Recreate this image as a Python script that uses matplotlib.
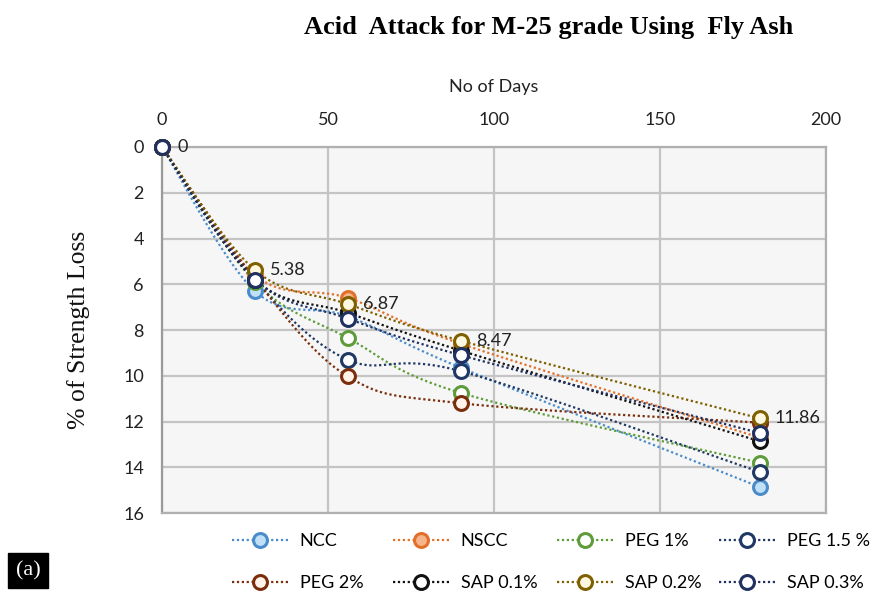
import numpy as np
import matplotlib
matplotlib.use("Agg")
import matplotlib.pyplot as plt
from matplotlib.lines import Line2D

days = [0, 28, 56, 90, 180]
series_names = ["NCC", "NSCC", "PEG 1%", "PEG 1.5 %", "PEG 2%", "SAP 0.1%", "SAP 0.2%", "SAP 0.3%"]
ncc = [0, 6.30, 7.40, 9.65, 14.86]
nscc = [0, 5.60, 6.60, 8.60, 12.70]
peg1 = [0, 5.90, 8.35, 10.75, 13.80]
peg15 = [0, 5.80, 9.30, 9.80, 14.20]
peg2 = [0, 5.75, 10.03, 11.20, 12.05]
sap01 = [0, 5.80, 7.25, 8.90, 12.86]
sap02 = [0, 5.38, 6.87, 8.47, 11.86]
sap03 = [0, 5.80, 7.50, 9.10, 12.50]
values = [ncc, nscc, peg1, peg15, peg2, sap01, sap02, sap03]
line_colors = ["#4a8cc9", "#e2702a", "#5e9c3a", "#1f3864", "#7b2e0c", "#111111", "#7f6000", "#203060"]
face_colors = ["#bfe0f7", "#f6b48a", "#ffffff", "#ffffff", "#fff3ea", "#ffffff", "#fff8e0", "#ffffff"]
label_series = sap02
label_texts = ["0", "5.38", "6.87", "8.47", "11.86"]


def smooth(x, y, n=30):
    x = np.asarray(x, float)
    y = np.asarray(y, float)
    px = np.concatenate([[x[0]], x, [x[-1]]])
    py = np.concatenate([[y[0]], y, [y[-1]]])
    outx, outy = [], []
    t = np.linspace(0, 1, n)
    for i in range(1, len(px) - 2):
        p0 = np.array([px[i - 1], py[i - 1]])
        p1 = np.array([px[i], py[i]])
        p2 = np.array([px[i + 1], py[i + 1]])
        p3 = np.array([px[i + 2], py[i + 2]])
        c1 = p1 + (p2 - p0) / 6.0
        c2 = p2 - (p3 - p1) / 6.0
        b = ((1 - t) ** 3)[:, None] * p1 + (3 * (1 - t) ** 2 * t)[:, None] * c1 \
            + (3 * (1 - t) * t ** 2)[:, None] * c2 + (t ** 3)[:, None] * p2
        outx.extend(b[:, 0])
        outy.extend(b[:, 1])
    return np.array(outx), np.array(outy)


LS = (0, (1, 1.2))
MS = 10

fig = plt.figure(figsize=(8.77, 5.92), dpi=100)
ax = fig.add_axes([0.1847, 0.1334, 0.9418 - 0.1847, 0.7517 - 0.1334])
ax.set_facecolor("#f6f6f6")

for name, vals, lc, fc in zip(series_names, values, line_colors, face_colors):
    sx, sy = smooth(days, vals)
    ax.plot(sx, sy, linestyle=LS, color=lc, linewidth=1.6, zorder=3)
    ax.plot(days, vals, linestyle="none", marker="o", markersize=MS, clip_on=False,
            markerfacecolor=fc, markeredgecolor=lc, markeredgewidth=2.2, zorder=4)

for d, v, t in zip(days, label_series, label_texts):
    ax.annotate(t, (d, v), xytext=(11, 0), textcoords="offset points",
                ha="left", va="center", fontsize=13, family="Lato", color="#222222", zorder=5)

ax.set_xlim(0, 200)
ax.set_ylim(16, 0)
ax.set_xticks([0, 50, 100, 150, 200])
ax.set_yticks(range(0, 17, 2))
ax.xaxis.tick_top()
ax.xaxis.set_label_position("top")
ax.tick_params(axis="both", length=0, labelsize=13, colors="#222222")
ax.tick_params(axis="x", pad=14)
ax.tick_params(axis="y", pad=13)
for lab in ax.get_xticklabels() + ax.get_yticklabels():
    lab.set_family("Lato")
ax.grid(True, color="#c4c4c4", linewidth=1.6)
ax.set_axisbelow(True)
for s in ax.spines.values():
    s.set_color("#b0b0b0")
    s.set_linewidth(1.6)
ax.spines["left"].set_color("#9a9a9a")

ax.set_xlabel("No of Days", family="Lato", fontsize=13, color="#222222", labelpad=14)
ax.set_ylabel("% of Strength Loss", family="Liberation Serif", fontsize=18.5, color="#111111", labelpad=24)

fig.text(0.625, 0.953, "Acid  Attack for M-25 grade Using  Fly Ash", ha="center", va="center",
         family="Liberation Serif", fontweight="bold", fontsize=19)

handles = [Line2D([0], [0], linestyle=LS, color=lc, linewidth=1.6, marker="o",
                  markersize=MS, markerfacecolor=fc, markeredgecolor=lc, markeredgewidth=2.2)
           for lc, fc in zip(line_colors, face_colors)]
col_x = [232, 393, 557, 719]
for c in range(4):
    idx = [c, c + 4]
    lg = fig.legend([handles[i] for i in idx], [series_names[i] for i in idx], ncol=1,
                    loc="center left", bbox_to_anchor=(col_x[c] / 877, 1 - 562 / 592),
                    frameon=False, prop={"family": "Lato", "size": 13}, handlelength=3.1,
                    handletextpad=0.65, labelspacing=1.45, borderpad=0, borderaxespad=0)

fig.text(0.032, 0.036, "(a)", ha="center", va="center", family="Liberation Serif", fontsize=16,
         color="white", bbox=dict(boxstyle="square,pad=0.35", facecolor="black", edgecolor="black"))

fig.savefig("out.png", dpi=100)
